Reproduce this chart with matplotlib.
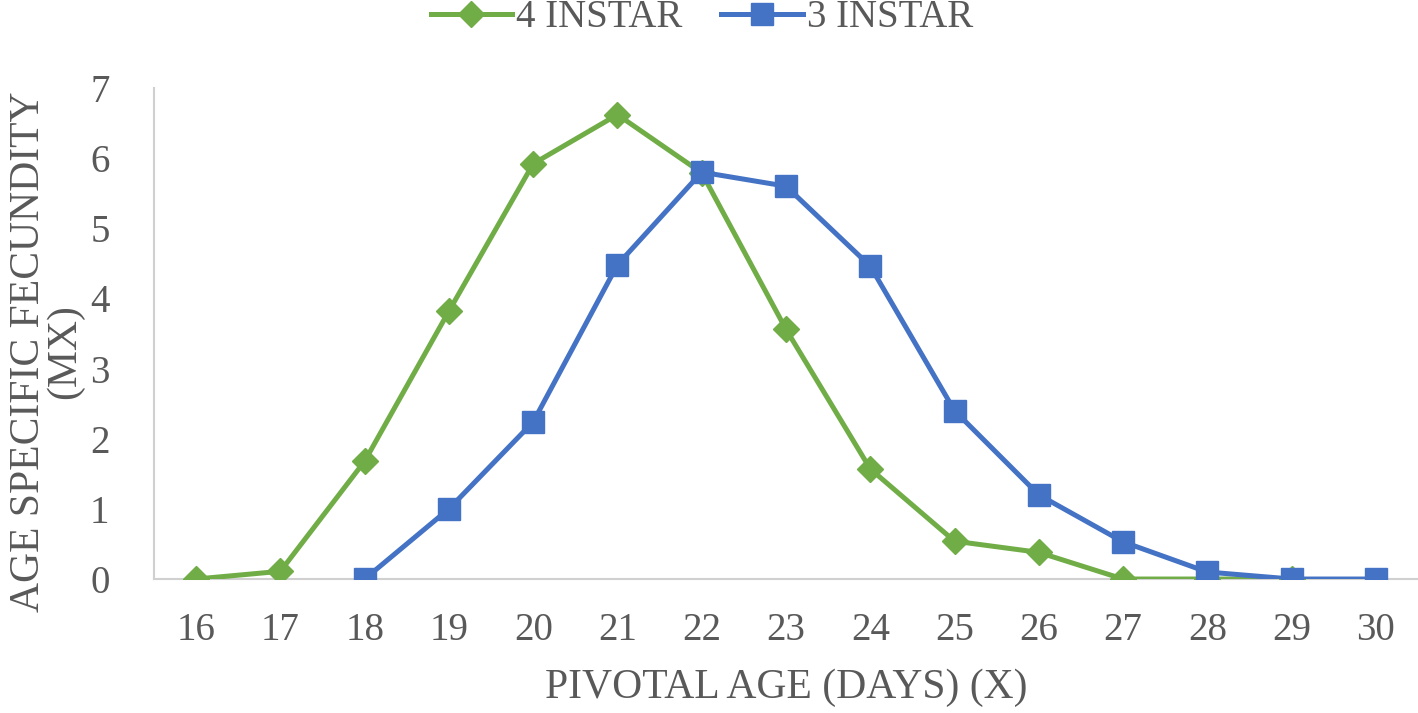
import matplotlib
matplotlib.use("Agg")
import matplotlib.pyplot as plt

days = [16, 17, 18, 19, 20, 21, 22, 23, 24, 25, 26, 27, 28, 29, 30]
instar4_days = [16, 17, 18, 19, 20, 21, 22, 23, 24, 25, 26, 27, 28, 29]
instar4 = [0, 0.11, 1.68, 3.82, 5.92, 6.62, 5.79, 3.56, 1.57, 0.54, 0.38, 0, 0, 0]
instar3_days = [18, 19, 20, 21, 22, 23, 24, 25, 26, 27, 28, 29, 30]
instar3 = [0, 1.0, 2.24, 4.48, 5.80, 5.60, 4.46, 2.40, 1.20, 0.53, 0.10, 0, 0]
yticks = [0, 1, 2, 3, 4, 5, 6, 7]

plt.rcParams['font.family'] = ['Liberation Serif', 'DejaVu Serif']
txt = '#595959'

fig = plt.figure(figsize=(14.18, 7.13), dpi=100)
ax = fig.add_axes([0.1086, 0.1879, 0.8914, 0.6887])

l4, = ax.plot(instar4_days, instar4, color='#70AD47', lw=3.6, marker='D', markersize=13,
              label='4 INSTAR', zorder=3)
l3, = ax.plot(instar3_days, instar3, color='#4472C4', lw=3.6, marker='s', markersize=16,
              label='3 INSTAR', zorder=4)

ax.set_xlim(15.5, 30.5)
ax.set_ylim(0, 7)
ax.set_xticks(days)
ax.set_xticklabels([str(d) for d in days])
ax.set_yticks(yticks)
for s in ['top', 'right']:
    ax.spines[s].set_visible(False)
for s in ['left', 'bottom']:
    ax.spines[s].set_color('#D0D0D0')
    ax.spines[s].set_linewidth(1.5)
ax.tick_params(axis='both', length=0, labelsize=28, colors=txt)
ax.tick_params(axis='x', pad=24)
ax.tick_params(axis='y', pad=32)

ax.set_xlabel('PIVOTAL AGE (DAYS) (X)', fontsize=30, color=txt, labelpad=14)
fig.text(0.033, 0.507, 'AGE SPECIFIC FECUNDITY\n(MX)', fontsize=30, color=txt,
         rotation=90, ha='center', va='center', multialignment='center',
         linespacing=0.95)

fig.legend(handles=[l4, l3], loc='upper center', bbox_to_anchor=(0.495, 1.05), ncol=2,
           frameon=False, fontsize=28, labelcolor=txt, handlelength=2.1,
           handletextpad=0.1, columnspacing=1.0)

fig.savefig('out.png', dpi=100)
